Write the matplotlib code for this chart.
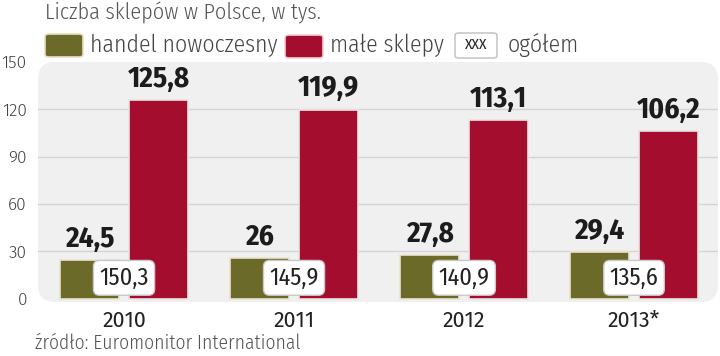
import matplotlib
matplotlib.use("Agg")
import matplotlib.pyplot as plt
from matplotlib.patches import FancyBboxPatch
import numpy as np

# data
years = ["2010", "2011", "2012", "2013*"]
modern = [24.5, 26, 27.8, 29.4]          # handel nowoczesny
small = [125.8, 119.9, 113.1, 106.2]     # małe sklepy
total = [150.3, 145.9, 140.9, 135.6]     # ogółem
yticks = [0, 30, 60, 90, 120, 150]

def fmt(v):
    # Polish decimal comma, drop ".0"
    s = ("%.1f" % v).rstrip("0").rstrip(".")
    return s.replace(".", ",")

OLIVE = "#6c6a28"
RED = "#a40d2d"
COND = ["Fira Sans Condensed", "Roboto Condensed", "DejaVu Sans"]
FIRA = ["Fira Sans", "Roboto", "DejaVu Sans"]
W, H = 720, 356

fig = plt.figure(figsize=(W / 100, H / 100), dpi=100)
fig.patch.set_facecolor("white")

# axes box in pixels: x 38..718, y 62..302
ax = fig.add_axes([38 / W, (H - 302) / H, 680 / W, 240 / H])
ax.set_xlim(-0.506, 3.494)
ax.set_ylim(-2, 150)
ax.patch.set_visible(False)

# rounded light-grey panel behind the bars
panel = FancyBboxPatch((0, 0), 1, 1, transform=ax.transAxes,
                       boxstyle="round,pad=0,rounding_size=0.025",
                       facecolor="#f0f0f0", edgecolor="none", zorder=0,
                       mutation_aspect=680 / 240)
ax.add_patch(panel)

for v in yticks[1:-1]:
    ax.axhline(v, color="#d4d4d4", lw=1, zorder=1)

x = np.arange(len(years))
bw = 0.347
off = 0.203
ax.bar(x - off, modern, bw, color=OLIVE, edgecolor="#e9e3d2", lw=1.2, zorder=2)
ax.bar(x + off, small, bw, color=RED, edgecolor="#ece4e0", lw=1.2, zorder=2)

for i in range(len(years)):
    ax.annotate(fmt(modern[i]), (x[i] - off, modern[i]), xytext=(0, 5),
                textcoords="offset points", ha="center", va="bottom",
                fontsize=21, fontweight="bold", family=COND, color="#1c1c1c",
                zorder=4)
    ax.annotate(fmt(small[i]), (x[i] + off, small[i]), xytext=(0, 5),
                textcoords="offset points", ha="center", va="bottom",
                fontsize=21, fontweight="bold", family=COND, color="#1c1c1c",
                zorder=4)
    ax.text(x[i], 13.3, fmt(total[i]), ha="center", va="center",
            fontsize=17.5, family=COND, color="#222222", zorder=5,
            bbox=dict(boxstyle="round,pad=0.24,rounding_size=0.25",
                      fc="white", ec="#c9c9c9", lw=1))

ax.set_yticks(yticks)
ax.set_yticklabels([str(v) for v in yticks], family=FIRA, fontweight=300)
ax.set_xticks(x)
ax.set_xticklabels(years, family=FIRA)
ax.tick_params(axis="y", length=0, pad=8, labelsize=12.5, labelcolor="#444444")
ax.tick_params(axis="x", length=0, pad=6, labelsize=15.5, labelcolor="#222222")
for s in ax.spines.values():
    s.set_visible(False)

# title, legend and source in pixel coordinates
def fx(px):
    return px / W

def fy(py):
    return (H - py) / H

fig.text(fx(45), fy(13), "Liczba sklepów w Polsce, w tys.", ha="left",
         va="center", fontsize=16, family=COND, fontweight=300, color="#555555")

def swatch(x0, x1, y0, y1, fc, ec):
    p = FancyBboxPatch((fx(x0), fy(y1)), fx(x1 - x0), (y1 - y0) / H,
                       transform=fig.transFigure,
                       boxstyle="round,pad=0,rounding_size=0.006",
                       facecolor=fc, edgecolor=ec, lw=1.2)
    fig.patches.append(p)

swatch(45, 83, 34, 57, OLIVE, "#e6dfc8")
fig.text(fx(90), fy(45), "handel nowoczesny", ha="left", va="center",
         fontsize=17, family=COND, fontweight=300, color="#444444")
swatch(285, 323, 35, 58, RED, "#f0d0d0")
fig.text(fx(330), fy(45), "małe sklepy", ha="left", va="center",
         fontsize=17, family=COND, fontweight=300, color="#444444")
swatch(455, 497, 33, 58, "white", "#c8c8c8")
fig.text(fx(476), fy(45), "XXX", ha="center", va="center",
         fontsize=11, family=COND, color="#222222")
fig.text(fx(508), fy(45), "ogółem", ha="left", va="center",
         fontsize=17, family=COND, fontweight=300, color="#444444")

fig.text(fx(35), fy(343), "źródło: Euromonitor International", ha="left",
         va="center", fontsize=14, family=COND, fontweight=300, color="#555555")

fig.savefig("out.png", dpi=100, facecolor="white")
